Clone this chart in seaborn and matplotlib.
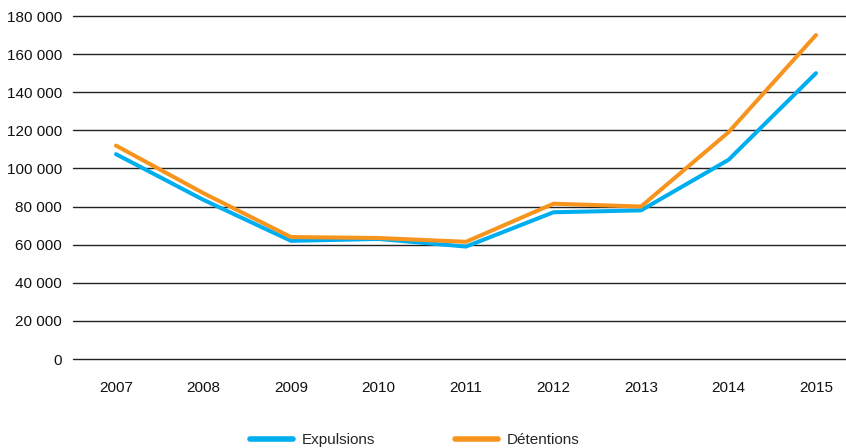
import matplotlib
matplotlib.use("Agg")
import matplotlib.pyplot as plt
import seaborn as sns
import pandas as pd
from matplotlib.ticker import FuncFormatter
from matplotlib.lines import Line2D

years = ["2007", "2008", "2009", "2010", "2011", "2012", "2013", "2014", "2015"]
expulsions = [107500, 83500, 62000, 63000, 59000, 77000, 78000, 104500, 150000]
detentions = [112000, 87000, 64000, 63500, 61500, 81500, 80000, 119000, 170000]
series_names = ["Expulsions", "Détentions"]
colors = ["#00AEEF", "#F7941D"]

df = pd.DataFrame({
    "x": list(range(len(years))) * 2,
    "value": expulsions + detentions,
    "serie": [series_names[0]] * len(years) + [series_names[1]] * len(years),
})

sns.set_theme(style="white")
plt.rcParams["font.family"] = ["Liberation Sans", "DejaVu Sans"]

fig = plt.figure(figsize=(8.46, 4.48), dpi=100)
ax = fig.add_axes([73 / 846, 1 - 359 / 448, 773 / 846, (359 - 16) / 448])

sns.lineplot(data=df, x="x", y="value", hue="serie", palette=colors,
             linewidth=2.9, ax=ax, legend=False, zorder=3)

ax.set_ylim(0, 180000)
ax.set_yticks(range(0, 180001, 20000))
ax.yaxis.set_major_formatter(FuncFormatter(lambda v, p: f"{int(v):,}".replace(",", " ")))
ax.set_xlim(-43 / 87.5, 8 + 30 / 87.5)
ax.set_xticks(range(len(years)))
ax.set_xticklabels(years)
ax.set_xlabel("")
ax.set_ylabel("")
for s in ax.spines.values():
    s.set_visible(False)
ax.grid(axis="y", color="#222222", linewidth=1.0)
ax.grid(axis="x", visible=False)
for gl in ax.get_ygridlines():
    gl.set_clip_on(False)
ax.tick_params(axis="y", length=0, pad=8, labelsize=11, colors="#111111")
ax.tick_params(axis="x", length=0, pad=16, labelsize=11, colors="#111111")

handles = [Line2D([0], [0], color=c, linewidth=4, solid_capstyle="round") for c in colors]
fig.legend(handles, series_names, loc="center", bbox_to_anchor=(415 / 846, 1 - 440 / 448),
           ncol=2, frameon=False, fontsize=11, handlelength=2.8, handletextpad=0.6,
           columnspacing=5.2)

fig.savefig("out.png", dpi=100)
